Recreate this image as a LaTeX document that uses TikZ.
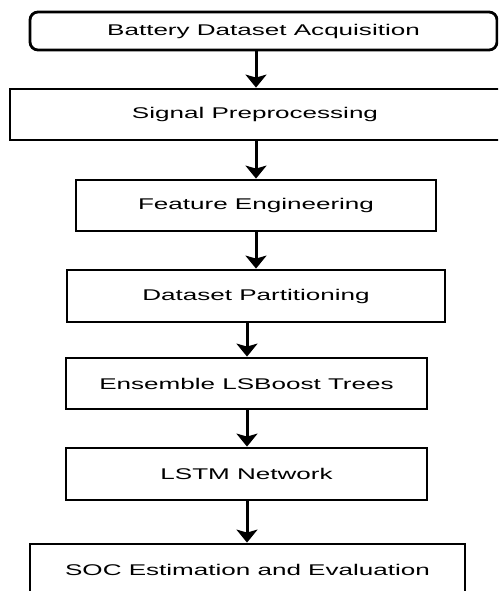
\documentclass[tikz,border=0pt]{standalone}
\usepackage{fontspec}
\setmainfont{Liberation Sans}[FakeStretch=1.68]
\usetikzlibrary{arrows.meta}
\begin{document}
\begin{tikzpicture}[x=1pt,y=-1pt,
  box/.style={draw, line width=2.8pt, inner sep=0pt, font=\fontsize{15.5}{18}\selectfont},
  arr/.style={-{Stealth[length=13pt,width=21pt,inset=3pt]}, line width=3pt}]
\useasboundingbox (0,0) rectangle (498,591);
\clip (0,0) rectangle (498,591);
\node[box, rounded corners=8pt, minimum width=467pt, minimum height=38pt] (n1) at (263.5,31) {Battery Dataset Acquisition};
\node[box, minimum width=490pt, minimum height=51pt] (n2) at (255,114.5) {Signal Preprocessing};
\node[box, minimum width=360pt, minimum height=51pt] (n3) at (256,205.5) {Feature Engineering};
\node[box, minimum width=378pt, minimum height=52pt] (n4) at (256,296) {Dataset Partitioning};
\node[box, minimum width=361pt, minimum height=51pt] (n5) at (246.5,383.5) {Ensemble LSBoost Trees};
\node[box, minimum width=361pt, minimum height=52pt] (n6) at (246.5,474) {LSTM Network};
\node[box, minimum width=435pt, minimum height=52pt] (n7) at (247.5,570) {SOC Estimation and Evaluation};
\coordinate (ca) at (256,0);
\coordinate (cb) at (247,0);
\draw[arr] (ca |- n1.south) -- (ca |- n2.north);
\draw[arr] (ca |- n2.south) -- (ca |- n3.north);
\draw[arr] (ca |- n3.south) -- (ca |- n4.north);
\draw[arr] (cb |- n4.south) -- (cb |- n5.north);
\draw[arr] (cb |- n5.south) -- (cb |- n6.north);
\draw[arr] (cb |- n6.south) -- (cb |- n7.north);
\end{tikzpicture}
\end{document}
